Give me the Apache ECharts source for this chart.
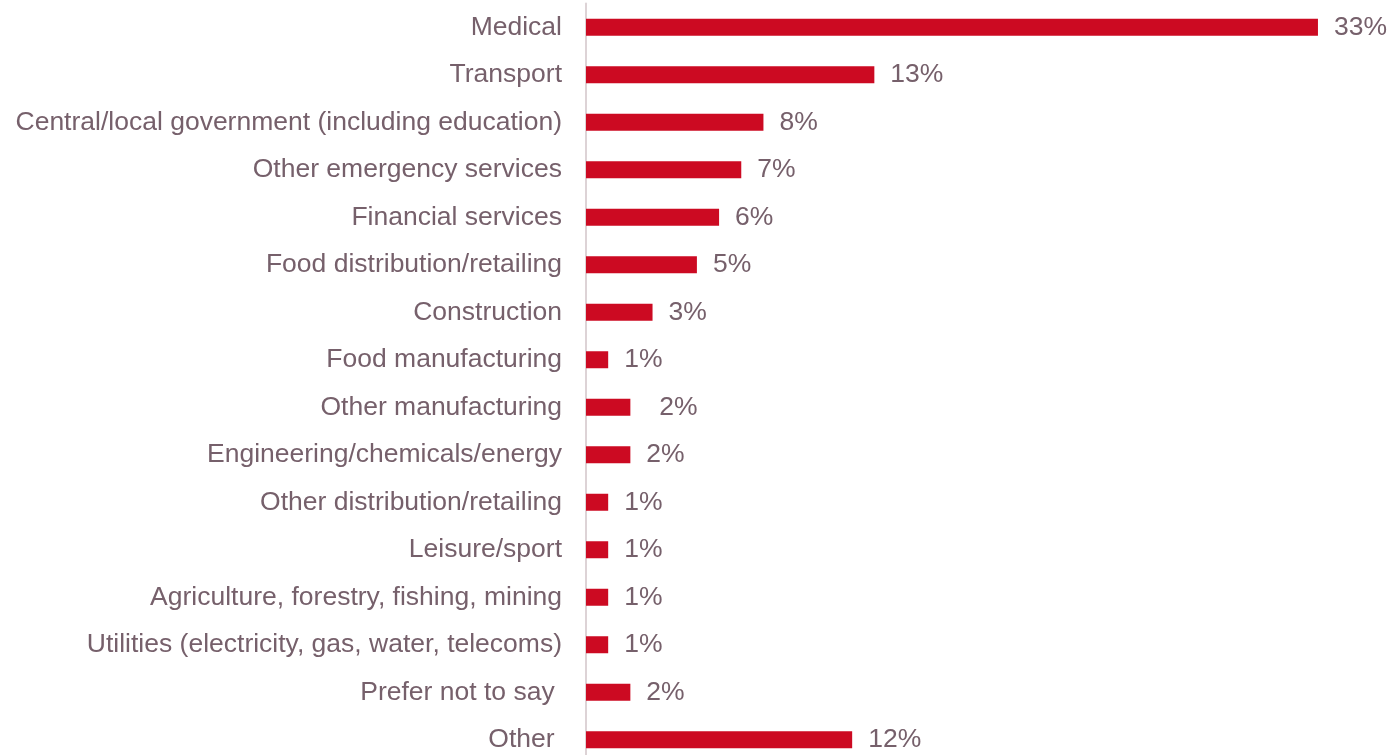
<!DOCTYPE html>
<html>
<head>
<meta charset="utf-8">
<script src="https://cdn.jsdelivr.net/npm/echarts@6/dist/echarts.min.js"></script>
<style>
  html, body { margin: 0; padding: 0; background: #ffffff; overflow: hidden; }
  #chart { width: 1398px; height: 770px; }
</style>
</head>
<body>
<div id="chart"></div>
<script>
// Sectors, listed top to bottom
const categories = [
  'Medical',
  'Transport',
  'Central/local government (including education)',
  'Other emergency services',
  'Financial services',
  'Food distribution/retailing',
  'Construction',
  'Food manufacturing',
  'Other manufacturing',
  'Engineering/chemicals/energy',
  'Other distribution/retailing',
  'Leisure/sport',
  'Agriculture, forestry, fishing, mining',
  'Utilities (electricity, gas, water, telecoms)',
  'Prefer not to say ',
  'Other '
];

// Share of respondents, percent
const values = [33, 13, 8, 7, 6, 5, 3, 1, 2, 2, 1, 1, 1, 1, 2, 12];

const textColor = '#76606b';
const barColor = '#cc0a22';
const fontFamily = 'Liberation Sans, Arial, sans-serif';

const chart = echarts.init(document.getElementById('chart'));

chart.setOption({
  animation: false,
  grid: { left: 586, width: 798.5, top: 3.5, bottom: 6.5, containLabel: false },
  xAxis: {
    type: 'value',
    min: 0,
    max: 36,
    show: false
  },
  yAxis: {
    type: 'category',
    inverse: true,
    data: categories,
    axisLine: { show: true, lineStyle: { color: '#ddd3d6', width: 2 } },
    axisTick: { show: false },
    axisLabel: {
      color: textColor,
      fontFamily: fontFamily,
      fontSize: 26.5,
      margin: 24
    }
  },
  series: [{
    type: 'bar',
    barWidth: 17,
    itemStyle: { color: barColor },
    data: values.map((v, i) => {
      const item = { value: v };
      if (categories[i] === 'Other manufacturing') {
        item.label = { offset: [13, 0] };
      }
      return item;
    }),
    label: {
      show: true,
      position: 'right',
      distance: 16,
      color: textColor,
      fontFamily: fontFamily,
      fontSize: 26.5,
      formatter: p => p.value + '%'
    }
  }]
});
</script>
</body>
</html>
